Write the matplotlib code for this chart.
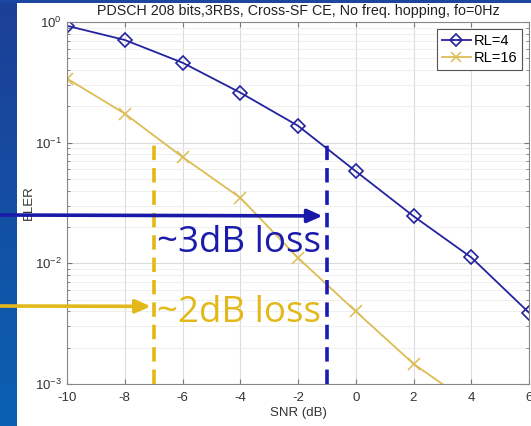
import numpy as np
import matplotlib
matplotlib.use("Agg")
import matplotlib.pyplot as plt
from matplotlib.ticker import LogLocator, NullFormatter

plt.rcParams['font.family'] = ['Liberation Sans', 'DejaVu Sans']
plt.rcParams['mathtext.fontset'] = 'custom'
plt.rcParams['mathtext.rm'] = 'Liberation Sans'
plt.rcParams['mathtext.it'] = 'Liberation Sans'
plt.rcParams['axes.unicode_minus'] = False

# SNR axis and BLER curves
snr = [-10, -8, -6, -4, -2, 0, 2, 4, 6]
bler_rl4 = [0.93, 0.71, 0.46, 0.26, 0.138, 0.058, 0.0246, 0.0112, 0.0039]
bler_rl16 = [0.34, 0.174, 0.076, 0.035, 0.0111, 0.0040, 0.00147, 0.00068, 0.0003]
xticks = [-10, -8, -6, -4, -2, 0, 2, 4, 6]

# annotation positions (dB)
snr_rl16_ref = -7.0
snr_rl4_ref = -1.0
bler_marks = [0.108, 0.108]

BLUE = '#2323a0'
YELLOW = '#dcbd55'
BLUE_TXT = '#1c1cac'
YELLOW_TXT = '#e3b81a'

W, H = 531, 426
fig = plt.figure(figsize=(W / 100, H / 100), dpi=100)

# slide background: blue strip on the left and top
band = fig.add_axes([0, 0, 17 / W, 1])
grad = np.linspace(0, 1, 256).reshape(-1, 1)
band.imshow(grad, aspect='auto', cmap=matplotlib.colors.LinearSegmentedColormap.from_list(
    'b', ['#1c3f96', '#0a60b2']), extent=[0, 1, 0, 1])
band.axis('off')
band.set_zorder(-1)
top = fig.add_axes([0, 1 - 3 / H, 1, 3 / H])
top.set_facecolor('#1b47a0')
top.set_xticks([]); top.set_yticks([])
for s in top.spines.values():
    s.set_visible(False)

ax = fig.add_axes([67 / W, 42 / H, 462 / W, 362 / H])
ax.set_yscale('log')
ax.set_xlim(-10, 6)
ax.set_ylim(1e-3, 1)

ax.plot(snr, bler_rl4, color=BLUE, lw=1.3, marker='D', markersize=7,
        markerfacecolor='none', markeredgewidth=1.2, label='RL=4')
ax.plot(snr, bler_rl16, color=YELLOW, lw=1.3, marker='x', markersize=8,
        markeredgewidth=1.1, label='RL=16')

ax.set_xticks(xticks)
ax.yaxis.set_major_locator(LogLocator(base=10, numticks=10))
ax.yaxis.set_minor_locator(LogLocator(base=10, subs=np.arange(2, 10), numticks=10))
ax.yaxis.set_minor_formatter(NullFormatter())
ax.grid(True, which='major', color='#dcdcdc', lw=0.8)
ax.grid(True, which='minor', axis='y', color='#ececec', lw=0.6)
ax.set_axisbelow(True)
ax.tick_params(direction='in', which='both', top=True, right=True,
               color='#777777', labelsize=9.5, labelcolor='#333333')
ax.tick_params(axis='x', pad=6)
for s in ax.spines.values():
    s.set_color('#888888')

ax.set_xlabel('SNR (dB)', fontsize=9.5, color='#333333', labelpad=2)
ax.set_ylabel('BLER', fontsize=9.5, color='#333333')
ax.yaxis.set_label_coords(-0.070, 0.5)
ax.set_title('PDSCH 208 bits,3RBs, Cross-SF CE, No freq. hopping, fo=0Hz',
             fontsize=10.3, color='#222222', pad=5)

leg = ax.legend(loc='upper right', fontsize=10.5, fancybox=False, framealpha=1,
                edgecolor='#555555', handlelength=2.0, borderpad=0.3,
                labelspacing=0.25, handletextpad=0.2, borderaxespad=0.5,
                markerscale=0.85)
leg.get_frame().set_linewidth(0.8)

# dashed reference lines
ax.plot([snr_rl16_ref, snr_rl16_ref], [1e-3, bler_marks[0]], color='#e6b813',
        lw=2.6, ls=(0, (4, 2.2)), zorder=5)
ax.plot([snr_rl4_ref, snr_rl4_ref], [1e-3, bler_marks[1]], color='#1a1ab4',
        lw=2.6, ls=(0, (4, 2.2)), zorder=5)

# arrows coming from the left of the slide
ax.annotate('', xy=(-1.15, 0.0247), xycoords='data',
            xytext=(0, (H - 215) / H), textcoords='figure fraction',
            arrowprops=dict(arrowstyle='-|>,head_length=0.9,head_width=0.4',
                            color='#1a1aa8', lw=2.6, shrinkA=0, shrinkB=0),
            annotation_clip=False, zorder=10)
ax.annotate('', xy=(-7.1, 0.0044), xycoords='data',
            xytext=(0, (H - 306) / H), textcoords='figure fraction',
            arrowprops=dict(arrowstyle='-|>,head_length=0.9,head_width=0.4',
                            color='#e3b81a', lw=2.6, shrinkA=0, shrinkB=0),
            annotation_clip=False, zorder=10)

ax.text(-6.9, 0.0148, '~3dB loss', color=BLUE_TXT, fontsize=26.5,
        family=['Open Sans', 'DejaVu Sans'], va='center', ha='left', zorder=11)
ax.text(-6.9, 0.0039, '~2dB loss', color=YELLOW_TXT, fontsize=26.5,
        family=['Open Sans', 'DejaVu Sans'], va='center', ha='left', zorder=11)

fig.savefig('out.png', dpi=100)
